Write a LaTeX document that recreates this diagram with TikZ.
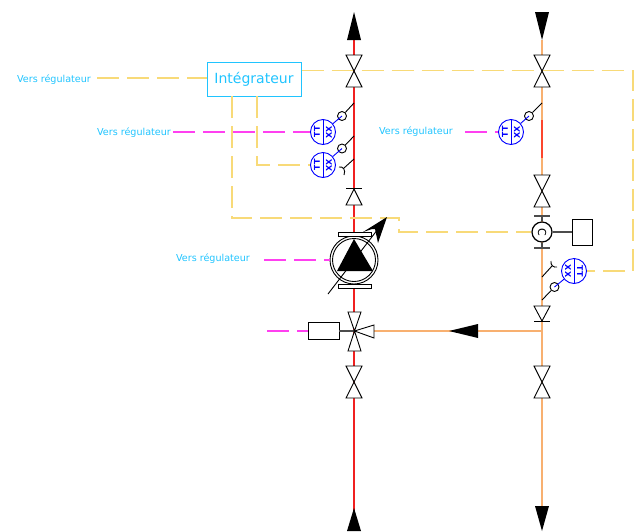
\documentclass[tikz,border=0pt]{standalone}
\usepackage{fontspec}
\setmainfont{DejaVu Sans}
\definecolor{jaune}{HTML}{F8DA78}
\definecolor{cyanreg}{HTML}{20C4FF}
\definecolor{magenta2}{HTML}{FF40F0}
\definecolor{orange2}{HTML}{F8B070}
\definecolor{rouge2}{HTML}{F02020}
\tikzset{
	liaison/.style={jaune, line width=1.05pt, dash pattern=on 22pt off 8pt},
	signal/.style={magenta2, line width=1.05pt, dash pattern=on 22pt off 8pt},
	reg/.style={cyanreg, font=\fontsize{9.6}{11}\selectfont, inner sep=0pt},
	sym/.style={black, line width=0.9pt},
	picot/.style={circle, draw, sym, minimum size=9pt, inner sep=0pt},
	pics/vanne/.style={code={
		\draw[sym, fill=white] (-8,-16) -- (8,-16) -- (-8,16) -- (8,16) -- cycle;
	}},
	pics/capteur/.style n args={3}{code={
		\node[circle, draw=blue, fill=white, line width=0.9pt, minimum size=25pt, inner sep=0pt] (-c) {};
		\draw[blue, line width=0.9pt] (-c.north) -- (-c.south);
		\node[blue, rotate=#3, inner sep=0pt, font=\fontsize{8}{8}\bfseries\selectfont] (-g) at (-6,0) {#1};
		\node[blue, rotate=#3, inner sep=0pt, font=\fontsize{8}{8}\bfseries\selectfont] (-d) at (6,0) {#2};
	}}
}
\begin{document}
\begin{tikzpicture}[x=1pt, y=-1pt]
	\useasboundingbox (0,0) rectangle (635,531);
	% points des conduites
	\coordinate (hautA) at (354,40);
	\coordinate (basA) at (354,531);
	\coordinate (hautB) at (542,40);
	\coordinate (basB) at (542,506);
	\coordinate (rougeB1) at (542,120);
	\coordinate (rougeB2) at (542,158);
	\coordinate (retour) at (542,331);
	\coordinate (troisD) at (374,331);
	\draw[rouge2, line width=1.05pt] (hautA) -- (basA);
	\draw[orange2, line width=1.2pt] (hautB) -- (basB) (retour) -- (troisD);
	\draw[red!60!orange2, line width=1.2pt] (rougeB1) -- (rougeB2);
	% fleches
	\fill (354,12) -- (361,40) -- (347,40) -- cycle;
	\fill (354,508) -- (361,531) -- (347,531) -- cycle;
	\fill (542,40) -- (549,12) -- (535,12) -- cycle;
	\fill (542,531) -- (549,506) -- (535,506) -- cycle;
	\fill (449,331) -- (478,324) -- (478,338) -- cycle;
	% integrateur et liaisons
	\node[draw=cyanreg, line width=1pt, minimum width=94pt, minimum height=34pt, inner sep=0pt, text=cyanreg, font=\fontsize{14}{16}\selectfont] (integ) at (254,79) {Intégrateur};
	\node[reg] (regA) at (54,80) {Vers régulateur};
	\node[reg] (regB) at (134,133) {Vers régulateur};
	\node[reg] (regC) at (213,259) {Vers régulateur};
	\node[reg] (regD) at (416,132) {Vers régulateur};
	\pic (ttA) at (323,132) {capteur={TT}{XX}{90}};
	\pic (ttB) at (323,165) {capteur={TT}{XX}{90}};
	\pic (ttC) at (511,132) {capteur={TT}{XX}{90}};
	\pic (ttD) at (574,271) {capteur={XX}{TT}{-90}};
	\node[circle, draw, line width=1.2pt, minimum size=20pt, inner sep=0pt, fill=white] (compteur) at (542,232) {};
	\node[rotate=-90, inner sep=0pt, font=\fontsize{11}{11}\selectfont] (lettre) at (542,232) {C};
	\draw[liaison] (97,78) -- (integ.west |- 0,78);
	\draw[liaison] (integ.east |- 0,70.5) -- (633,70.5) -- (633,271) -- (ttD-c.east);
	\draw[liaison] (232,96) -- (232,218) -- (399,218) -- (399,232) -- (compteur.west);
	\draw[liaison] (257,96) -- (257,165) -- (ttB-c.west);
	\draw[signal] (173,132) -- (ttA-c.west);
	\draw[signal] (465,132) -- (ttC-c.west);
	% pompe
	\node[circle, draw, sym, fill=white, minimum size=48pt, inner sep=0pt] (pompe) at (354,260) {};
	\node[circle, draw, sym, minimum size=43pt, inner sep=0pt] (pompei) at (354,260) {};
	\node[draw, sym, fill=white, minimum width=33pt, minimum height=4pt, inner sep=0pt] (brideH) at (354.5,234) {};
	\node[draw, sym, fill=white, minimum width=33pt, minimum height=4pt, inner sep=0pt] (brideB) at (354.5,286) {};
	\fill (354,239) -- (373,271) -- (337,271) -- cycle;
	\coordinate (flecheP) at (378,229);
	\draw[sym] (328,294) -- (flecheP);
	\fill (387,217) -- (363,232) -- (372,229) -- (375,229) -- (378,243) -- cycle;
	\draw[signal] (264,260) -- (pompe.west);
	% vannes
	\pic at (354,71) {vanne};
	\pic at (354,382) {vanne};
	\pic at (542,71) {vanne};
	\pic at (542,191) {vanne};
	\pic at (542,382) {vanne};
	% clapets
	\draw[sym, fill=white] (354,189) -- (362,205) -- (346,205) -- cycle;
	\draw[sym] (346,188) -- (362,188);
	\draw[sym, fill=white] (542,321) -- (550,306) -- (534,306) -- cycle;
	\draw[sym] (534,321) -- (550,321);
	% vanne trois voies
	\node[draw, sym, fill=white, minimum width=31pt, minimum height=17pt, inner sep=0pt] (servo) at (323.5,331) {};
	\coordinate (trois) at (354.5,331);
	\draw[gray!60!black, line width=1.1pt] (servo.east) -- (trois);
	\draw[sym, fill=white] (trois) -- (348,312) -- (361,312) -- cycle;
	\draw[sym, fill=white] (trois) -- (348,351) -- (361,351) -- cycle;
	\draw[sym, fill=white] (trois) -- (374,325) -- (374,338) -- cycle;
	\draw[signal] (267,331) -- (servo.west);
	% compteur
	\draw[gray!60!black, line width=1.1pt] (534,216) -- (550,216) (542,216) -- (compteur.north)
		(534,248) -- (550,248) (542,248) -- (compteur.south);
	\node[draw, sym, fill=white, minimum width=20pt, minimum height=26pt, inner sep=0pt] (afficheur) at (582,232) {};
	\draw[gray!60!black, line width=1.1pt] (compteur.east) -- (afficheur.west);
	% piquages
	\node[picot] (picA) at (342,116) {};
	\node[picot] (picB) at (342,148.5) {};
	\node[picot] (picC) at (529,116) {};
	\node[picot] (picD) at (554.5,287) {};
	\coordinate (tapA) at (354,103);
	\coordinate (tapB) at (354,136);
	\coordinate (tapC) at (542,103);
	\coordinate (tapD) at (542,300);
	\draw[sym] (picA) -- (tapA) (picB) -- (tapB) (picC) -- (tapC) (picD) -- (tapD);
	\draw[blue, line width=0.9pt] (ttA-c) -- (picA.center) (ttB-c) -- (picB.center) (ttC-c) -- (picC.center) (ttD-c) -- (picD.center);
	\coordinate (tapE) at (354,159);
	\coordinate (tapF) at (542,277);
	\coordinate (crochetE) at (344,168);
	\coordinate (crochetF) at (552,266);
	\draw[sym] (tapE) -- (crochetE) (339,167) .. controls (343,166) and (346,170) .. (344,175);
	\draw[sym] (tapF) -- (crochetF) (551,261) .. controls (550,265) and (554,268) .. (557,267);
\end{tikzpicture}
\end{document}
